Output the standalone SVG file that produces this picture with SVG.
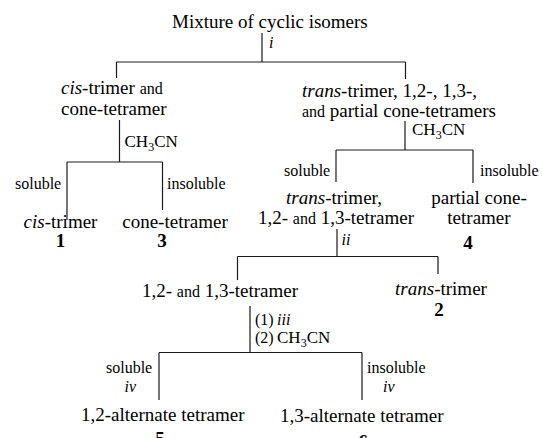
<svg xmlns="http://www.w3.org/2000/svg" width="542" height="438" viewBox="0 0 542 438">
  <style>
    text { font-family: "Liberation Serif", "Times New Roman", serif; fill: #000; }
    .t { font-size: 19px; }
    .s { font-size: 16px; }
    .r { font-size: 17px; }
    .it { font-style: italic; }
    .b { font-size: 19px; font-weight: bold; text-anchor: middle; }
    .m { text-anchor: middle; }
    .sub { font-size: 12px; }
    #connectors line { stroke: #1a1a1a; stroke-width: 1.2; }
  </style>
  <rect width="542" height="438" fill="#fff"/>

  <g id="connectors">
    <!-- step i -->
    <line x1="262" y1="33" x2="262" y2="62"/>
    <line x1="116.5" y1="62" x2="405.5" y2="62"/>
    <line x1="116.5" y1="62" x2="116.5" y2="78"/>
    <line x1="405.5" y1="62" x2="405.5" y2="79"/>
    <!-- left CH3CN split -->
    <line x1="119.5" y1="120" x2="119.5" y2="162"/>
    <line x1="67" y1="162" x2="162.5" y2="162"/>
    <line x1="67" y1="162" x2="67" y2="220"/>
    <line x1="162.5" y1="162" x2="162.5" y2="210"/>
    <!-- right CH3CN split -->
    <line x1="405" y1="121" x2="405" y2="150"/>
    <line x1="336" y1="150" x2="473" y2="150"/>
    <line x1="336" y1="150" x2="336" y2="182"/>
    <line x1="473" y1="150" x2="473" y2="183"/>
    <!-- step ii -->
    <line x1="337" y1="229" x2="337" y2="256.5"/>
    <line x1="237.5" y1="256.5" x2="438" y2="256.5"/>
    <line x1="237.5" y1="256.5" x2="237.5" y2="280"/>
    <line x1="438" y1="256.5" x2="438" y2="274"/>
    <!-- step iii / CH3CN -->
    <line x1="250" y1="306" x2="250" y2="352.5"/>
    <line x1="159" y1="352.5" x2="362" y2="352.5"/>
    <line x1="159" y1="352.5" x2="159" y2="400"/>
    <line x1="362" y1="352.5" x2="362" y2="400"/>
  </g>

  <g id="mixture">
    <text class="t" x="172" y="28">Mixture of cyclic isomers</text>
    <text class="s it" x="269" y="48">i</text>
  </g>

  <g id="cis-cone">
    <text class="t" x="61" y="94"><tspan class="it">cis</tspan>-trimer <tspan class="s">and</tspan></text>
    <text class="t" x="61" y="115">cone-tetramer</text>
    <text class="r" x="124.5" y="147">CH<tspan class="sub" dy="4">3</tspan><tspan dy="-4">CN</tspan></text>
    <text class="s" x="15" y="189">soluble</text>
    <text class="s" x="167" y="189">insoluble</text>
  </g>

  <g id="cis-trimer">
    <text class="t m" x="60.5" y="227.5"><tspan class="it">cis</tspan>-trimer</text>
    <text class="b" x="60.5" y="246.5">1</text>
  </g>

  <g id="cone-tetramer">
    <text class="t m" x="175" y="227.5">cone-tetramer</text>
    <text class="b" x="162" y="246.5">3</text>
  </g>

  <g id="trans-partial">
    <text class="t" x="302" y="97"><tspan class="it">trans</tspan>-trimer, 1,2-, 1,3-,</text>
    <text class="t" x="302" y="117"><tspan class="s">and</tspan> partial cone-tetramers</text>
    <text class="r" x="412" y="135">CH<tspan class="sub" dy="4">3</tspan><tspan dy="-4">CN</tspan></text>
    <text class="s" x="284" y="176">soluble</text>
    <text class="s" x="480" y="176">insoluble</text>
  </g>

  <g id="trans-12-13">
    <text class="t m" x="334" y="203.5"><tspan class="it">trans</tspan>-trimer,</text>
    <text class="t m" x="336" y="223.5">1,2- <tspan class="s">and</tspan> 1,3-tetramer</text>
    <text class="s it" x="341.5" y="245">ii</text>
  </g>

  <g id="partial-cone">
    <text class="t m" x="479" y="203.5">partial cone-</text>
    <text class="t m" x="479" y="223.5">tetramer</text>
    <text class="b" x="468" y="249">4</text>
  </g>

  <g id="tetramers-12-13">
    <text class="t" x="142" y="296.7">1,2- <tspan class="s">and</tspan> 1,3-tetramer</text>
    <text class="s" x="255" y="324.5">(1)</text>
    <text class="s it" x="277" y="324.5">iii</text>
    <text class="s" x="255" y="342.7">(2)</text>
    <text class="r" x="277" y="342.7">CH<tspan class="sub" dy="4">3</tspan><tspan dy="-4">CN</tspan></text>
    <text class="s" x="106" y="373">soluble</text>
    <text class="s it" x="124.5" y="391.7">iv</text>
    <text class="s" x="367" y="373">insoluble</text>
    <text class="s it" x="383" y="391.7">iv</text>
  </g>

  <g id="trans-trimer">
    <text class="t m" x="441" y="295">
      <tspan class="it">trans</tspan>-trimer</text>
    <text class="b" x="439" y="315.5">2</text>
  </g>

  <g id="alt-12">
    <text class="t" x="81" y="420.5">1,2-alternate tetramer</text>
    <text class="b" x="160" y="445">5</text>
  </g>

  <g id="alt-13">
    <text class="t" x="280" y="422">1,3-alternate tetramer</text>
    <text class="b" x="363" y="448">6</text>
  </g>
</svg>
